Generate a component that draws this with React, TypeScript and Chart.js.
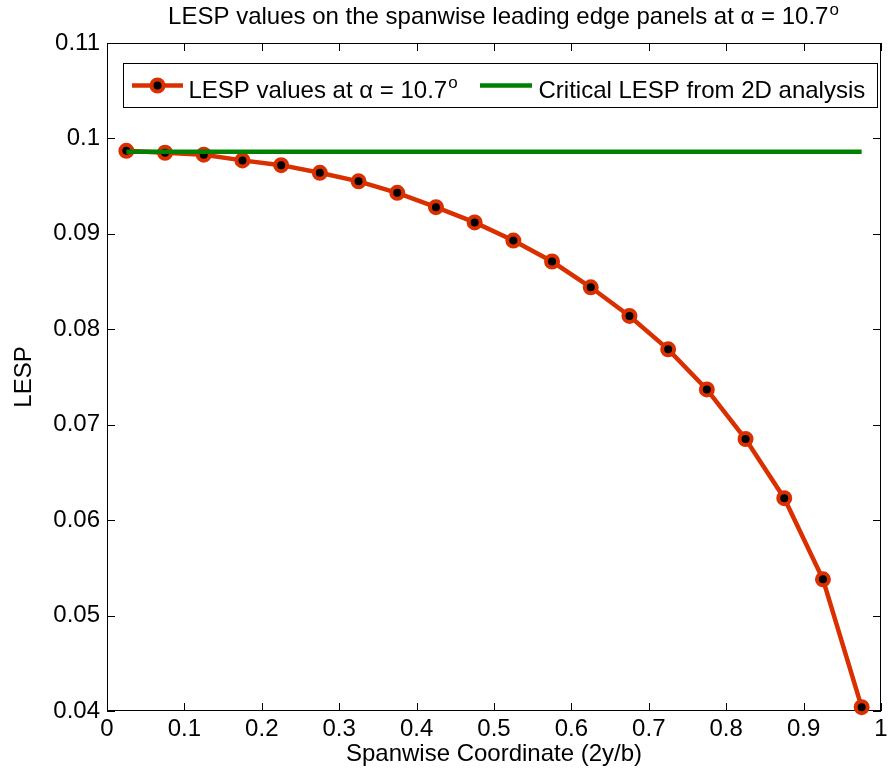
import React, { useEffect, useRef } from "react";
import { Chart, registerables } from "chart.js";

Chart.register(...registerables);

// ---------- data ----------
const spanwise = [
  0.025, 0.075, 0.125, 0.175, 0.225, 0.275, 0.325, 0.375, 0.425, 0.475,
  0.525, 0.575, 0.625, 0.675, 0.725, 0.775, 0.825, 0.875, 0.925, 0.975,
];
const lespValues = [
  0.0987, 0.0985, 0.0983, 0.0977, 0.0972, 0.0964, 0.0955, 0.0943, 0.0928, 0.0912,
  0.0893, 0.0871, 0.0844, 0.0814, 0.0779, 0.0737, 0.0685, 0.0623, 0.0538, 0.0404,
];
const criticalSpan = [0.025, 0.975];
const criticalLesp = [0.0986, 0.0986];

const xTickValues = [0, 0.1, 0.2, 0.3, 0.4, 0.5, 0.6, 0.7, 0.8, 0.9, 1];
const xTickLabels = ["0", "0.1", "0.2", "0.3", "0.4", "0.5", "0.6", "0.7", "0.8", "0.9", "1"];
const yTickValues = [0.04, 0.05, 0.06, 0.07, 0.08, 0.09, 0.1, 0.11];
const yTickLabels = ["0.04", "0.05", "0.06", "0.07", "0.08", "0.09", "0.1", "0.11"];

const titleMain = "LESP values on the spanwise leading edge panels at α = 10.7";
const titleSup = "o";
const seriesLabels = ["LESP values at α = 10.7", "Critical LESP from 2D analysis"];
const seriesLabelSups = ["o", ""];
const xAxisTitle = "Spanwise Coordinate (2y/b)";
const yAxisTitle = "LESP";

// ---------- styles ----------
const FONT = '"Liberation Sans", Arial, Helvetica, sans-serif';
const RED = "rgb(218, 48, 0)";
const GREEN = "rgb(0, 128, 0)";

const decorPlugin = {
  id: "decor",
  beforeDatasetsDraw(chart: any) {
    const { ctx, chartArea: a, scales } = chart;
    ctx.save();
    ctx.strokeStyle = "#000";
    ctx.lineWidth = 1;
    ctx.strokeRect(a.left + 0.5, a.top + 0.5, a.right - a.left - 1, a.bottom - a.top - 1);
    const tl = 8;
    ctx.beginPath();
    for (const v of xTickValues) {
      const px = Math.round(scales.x.getPixelForValue(v)) + 0.5;
      ctx.moveTo(px, a.bottom);
      ctx.lineTo(px, a.bottom - tl);
      ctx.moveTo(px, a.top);
      ctx.lineTo(px, a.top + tl);
    }
    for (const v of yTickValues) {
      const py = Math.round(scales.y.getPixelForValue(v)) + 0.5;
      ctx.moveTo(a.left, py);
      ctx.lineTo(a.left + tl, py);
      ctx.moveTo(a.right, py);
      ctx.lineTo(a.right - tl, py);
    }
    ctx.stroke();
    ctx.restore();
  },
  afterDraw(chart: any) {
    const { ctx, chartArea: a } = chart;
    ctx.save();
    ctx.fillStyle = "#000";
    ctx.textBaseline = "alphabetic";
    ctx.textAlign = "left";

    // title
    ctx.font = `24px ${FONT}`;
    const wMain = ctx.measureText(titleMain).width;
    ctx.font = `17px ${FONT}`;
    const wSup = ctx.measureText(titleSup).width;
    const cx = (a.left + a.right) / 2 + 9;
    const tx = cx - (wMain + wSup) / 2;
    ctx.font = `24px ${FONT}`;
    ctx.fillText(titleMain, tx, 23.5);
    ctx.font = `17px ${FONT}`;
    ctx.fillText(titleSup, tx + wMain + 1, 15);

    // legend
    const lx = a.left + 16;
    const ly = a.top + 20;
    const lw = 755;
    const lh = 45;
    ctx.fillStyle = "#fff";
    ctx.fillRect(lx, ly, lw, lh);
    ctx.strokeStyle = "#000";
    ctx.lineWidth = 1;
    ctx.strokeRect(lx + 0.5, ly + 0.5, lw - 1, lh - 1);

    const lineY = ly + 22.5;
    const textY = ly + 34.6;
    const items = [
      { color: RED, x0: 9, x1: 60, marker: true, tx: 65.5 },
      { color: GREEN, x0: 357, x1: 409, marker: false, tx: 415.5 },
    ];
    items.forEach((it, i) => {
      ctx.strokeStyle = it.color;
      ctx.lineWidth = 4.5;
      ctx.beginPath();
      ctx.moveTo(lx + it.x0, lineY);
      ctx.lineTo(lx + it.x1, lineY);
      ctx.stroke();
      if (it.marker) {
        ctx.beginPath();
        ctx.arc(lx + (it.x0 + it.x1) / 2, lineY, 6, 0, Math.PI * 2);
        ctx.fillStyle = "#000";
        ctx.fill();
        ctx.lineWidth = 4;
        ctx.strokeStyle = it.color;
        ctx.stroke();
      }
      ctx.fillStyle = "#000";
      ctx.font = `24px ${FONT}`;
      ctx.fillText(seriesLabels[i], lx + it.tx, textY);
      if (seriesLabelSups[i]) {
        const w = ctx.measureText(seriesLabels[i]).width;
        ctx.font = `17px ${FONT}`;
        ctx.fillText(seriesLabelSups[i], lx + it.tx + w + 1, textY - 10);
      }
    });
    ctx.restore();
  },
};

export default function App() {
  const ref = useRef<HTMLCanvasElement | null>(null);

  useEffect(() => {
    if (!ref.current) return;
    const chart = new Chart(ref.current, {
      type: "line",
      data: {
        datasets: [
          {
            label: seriesLabels[1],
            data: criticalSpan.map((x, i) => ({ x, y: criticalLesp[i] })),
            borderColor: GREEN,
            borderWidth: 4.5,
            pointRadius: 0,
            fill: false,
            order: 0,
            clip: false as any,
          },
          {
            label: seriesLabels[0],
            data: spanwise.map((x, i) => ({ x, y: lespValues[i] })),
            borderColor: RED,
            borderWidth: 4.5,
            pointRadius: 6,
            pointBorderWidth: 4,
            pointBackgroundColor: "#000",
            pointBorderColor: RED,
            fill: false,
            order: 1,
            clip: false as any,
          },
        ],
      },
      options: {
        animation: false,
        responsive: false,
        layout: { padding: { top: 43, right: 3, left: 0, bottom: 0 } },
        plugins: {
          legend: { display: false },
          title: { display: false },
          tooltip: { enabled: false },
        },
        scales: {
          x: {
            type: "linear",
            min: 0,
            max: 1,
            grid: { display: false, drawTicks: false },
            border: { display: false },
            afterBuildTicks: (s: any) => {
              s.ticks = xTickValues.map((v) => ({ value: v }));
            },
            afterFit: (s: any) => {
              s.height = 62;
              s.paddingLeft = 0;
              s.paddingRight = 0;
            },
            ticks: {
              color: "#000",
              font: { family: FONT, size: 24 },
              padding: 4,
              maxRotation: 0,
              autoSkip: false,
              callback: (_v: any, i: number) => xTickLabels[i],
            },
            title: {
              display: true,
              text: xAxisTitle,
              color: "#000",
              font: { family: FONT, size: 24 },
              padding: { top: 0, bottom: 4 },
            },
          },
          y: {
            type: "linear",
            min: 0.04,
            max: 0.11,
            grid: { display: false, drawTicks: false },
            border: { display: false },
            afterBuildTicks: (s: any) => {
              s.ticks = yTickValues.map((v) => ({ value: v }));
            },
            afterFit: (s: any) => {
              s.width = 107;
              s.paddingTop = 0;
              s.paddingBottom = 0;
            },
            ticks: {
              color: "#000",
              font: { family: FONT, size: 24 },
              padding: 7,
              autoSkip: false,
              callback: (_v: any, i: number) => yTickLabels[i],
            },
            title: {
              display: true,
              text: yAxisTitle,
              color: "#000",
              font: { family: FONT, size: 24 },
              padding: { top: 10, bottom: 0 },
            },
          },
        },
      },
      plugins: [decorPlugin],
    } as any);
    return () => chart.destroy();
  }, []);

  return (
    <div style={{ position: "fixed", left: 0, top: 0, width: 891, height: 773, background: "#fff" }}>
      <canvas ref={ref} width={891} height={773} style={{ display: "block", width: 891, height: 773 }} />
    </div>
  );
}
